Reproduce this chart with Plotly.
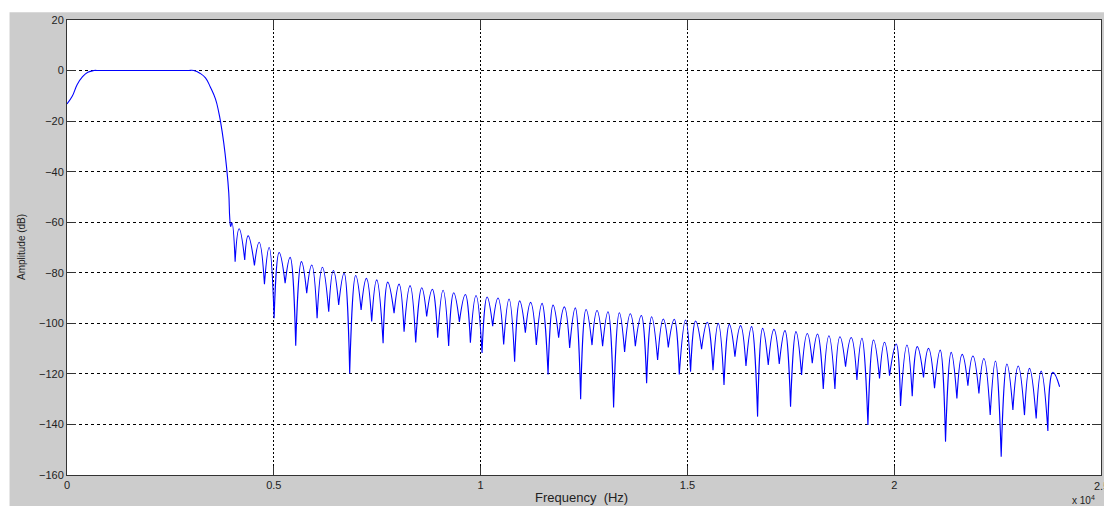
import plotly.graph_objects as go

# Passband and transition band (frequency in Hz, amplitude in dB)
band_hz = [0, 126, 247, 367, 503, 648, 800, 2900, 3065, 3227, 3348, 3468,
           3589, 3669, 3710, 3790, 3855, 3911, 3935, 3959, 3988]
band_db = [-13.2, -10.2, -5.5, -2.6, -0.7, 0.0, 0.0, 0.0, 0.0, -1.2, -2.9,
           -6.6, -11.2, -16.5, -20.0, -28.6, -37.8, -48.4, -58.3, -61.7, -60.2]

# Stopband nulls (bottom of each notch)
null_hz = [4065, 4297, 4532, 4774, 5008, 5274, 5530, 5796, 6047, 6328,
           6569, 6835, 7111, 7367, 7643, 7908, 8150, 8431, 8696, 8962,
           9228, 9487, 9753, 10035, 10292, 10558, 10823, 11082, 11348, 11631,
           11887, 12153, 12419, 12694, 12950, 13216, 13482, 13741, 14014, 14280,
           14538, 14804, 15077, 15343, 15619, 15885, 16150, 16416, 16697, 16955,
           17221, 17494, 17760, 18019, 18285, 18567, 18824, 19099, 19365, 19645,
           19887, 20153, 20436, 20709, 20975, 21241, 21516, 21782, 22048, 22321,
           22587, 22870, 23150, 23433, 23716]
null_db = [-75.6, -74.9, -77.1, -84.5, -98.0, -84.1, -108.9, -88.1, -98.0, -95.4,
           -92.7, -119.8, -94.7, -99.3, -107.9, -96.0, -103.3, -107.6, -97.3, -105.7,
           -109.0, -99.4, -107.7, -111.7, -101.1, -108.4, -115.2, -103.7, -108.6, -120.2,
           -105.7, -109.7, -130.0, -108.6, -109.0, -133.3, -111.3, -109.0, -123.7, -114.5,
           -109.5, -120.2, -119.1, -110.2, -118.5, -124.4, -113.2, -116.9, -136.9, -116.5,
           -116.1, -133.0, -120.4, -115.8, -126.0, -126.0, -117.2, -122.4, -140.2, -121.8,
           -120.7, -132.7, -128.8, -121.4, -125.7, -146.8, -129.7, -124.7, -127.7, -136.3,
           -152.8, -134.3, -136.3, -137.6, -142.6]

# Stopband sidelobe peaks
peak_hz = [4162, 4380, 4646, 4887, 5129, 5395, 5668, 5917, 6175, 6441,
           6700, 6980, 7239, 7488, 7754, 8029, 8295, 8576, 8834, 9093,
           9349, 9632, 9890, 10156, 10422, 10688, 10944, 11210, 11486, 11752,
           12025, 12290, 12549, 12815, 13081, 13354, 13620, 13886, 14135, 14417,
           14683, 14956, 15198, 15481, 15747, 16013, 16286, 16552, 16818, 17093,
           17359, 17625, 17898, 18147, 18422, 18688, 18961, 19220, 19500, 19766,
           20049, 20308, 20557, 20830, 21113, 21378, 21644, 21903, 22169, 22449,
           22725, 22998, 23271, 23554, 23837]
peak_db = [-62.6, -65.4, -67.9, -70.0, -72.0, -73.9, -75.6, -76.9, -77.8, -79.1,
           -80.2, -81.1, -82.2, -82.8, -83.7, -84.5, -85.1, -85.9, -86.5, -86.9,
           -87.9, -88.6, -89.0, -89.6, -90.0, -90.4, -91.1, -91.7, -92.1, -92.8,
           -93.5, -93.9, -94.5, -94.9, -95.4, -95.8, -96.2, -96.9, -97.4, -98.3,
           -98.4, -98.7, -99.1, -99.6, -100.0, -100.4, -100.9, -101.3, -102.0, -102.4,
           -102.9, -103.3, -104.0, -104.2, -104.9, -105.3, -105.6, -105.9, -106.6, -107.5,
           -108.2, -108.6, -109.2, -109.9, -110.6, -111.5, -112.3, -112.9, -113.9, -114.9,
           -116.1, -116.9, -117.8, -118.9, -119.4]

# Last sample at the Nyquist frequency
end_hz = 24000
end_db = -125.1

x_ticks = [0, 5000, 10000, 15000, 20000, 25000]
x_tick_text = ["0", "0.5", "1", "1.5", "2", "2.5"]
y_ticks = [20, 0, -20, -40, -60, -80, -100, -120, -140, -160]

# Assemble the response curve; each null is listed twice so the spline
# forms a sharp notch there instead of a rounded valley.
freq = list(band_hz)
amp = list(band_db)
for nh, nd, ph, pd in zip(null_hz, null_db, peak_hz, peak_db):
    freq += [nh, nh, ph]
    amp += [nd, nd, pd]
freq.append(end_hz)
amp.append(end_db)

W, H = 1104, 506
ML, MR, MT, MB = 66.5, 3, 20, 31
plot_w = W - ML - MR
plot_h = H - MT - MB


def px_to_paper_x(px):
    return (px - ML) / plot_w


def px_to_paper_y(py):
    return (H - MB - py) / plot_h


fig = go.Figure()
fig.add_trace(go.Scatter(
    x=freq, y=amp, mode="lines",
    line=dict(color="#0000ff", width=1.1, shape="spline", smoothing=1.3,
              simplify=False),
    hoverinfo="x+y",
))

font_family = "Liberation Sans, Arial, Helvetica, sans-serif"
tick_font = dict(family=font_family, size=11, color="#222222")
axis_common = dict(
    showline=True, linecolor="#333333", linewidth=1, mirror="ticks",
    ticks="inside", ticklen=9, tickcolor="#333333", tickwidth=1,
    showgrid=True, gridcolor="#000000", gridwidth=1, zeroline=False,
    tickfont=tick_font,
)

fig.update_layout(
    width=W, height=H,
    margin=dict(l=ML, r=MR, t=MT, b=MB, pad=0),
    paper_bgcolor="#cccccc", plot_bgcolor="#ffffff",
    showlegend=False,
    font=dict(family=font_family, size=11, color="#222222"),
    # the last tick sits on the right frame edge; its label is placed
    # separately below so that it runs off the edge of the window
    xaxis=dict(range=[0, 25000], tickmode="array", tickvals=x_ticks[:-1],
               ticktext=x_tick_text[:-1], griddash="2px,2px", **axis_common),
    yaxis=dict(range=[-160, 20], tickmode="array", tickvals=y_ticks,
               griddash="3px,3px", **axis_common),
    shapes=[
        # white window border along the top and left edges
        dict(type="rect", xref="paper", yref="paper", layer="below",
             x0=px_to_paper_x(-5), x1=px_to_paper_x(9),
             y0=px_to_paper_y(H + 5), y1=px_to_paper_y(-5),
             fillcolor="#ffffff", line=dict(width=0)),
        dict(type="rect", xref="paper", yref="paper", layer="below",
             x0=px_to_paper_x(-5), x1=px_to_paper_x(W + 5),
             y0=px_to_paper_y(12.3), y1=px_to_paper_y(-5),
             fillcolor="#ffffff", line=dict(width=0)),
    ],
    annotations=[
        dict(text=x_tick_text[-1], xref="x", yref="paper",
             x=x_ticks[-1], y=px_to_paper_y(477.5), showarrow=False,
             xanchor="center", yanchor="top", font=tick_font),
        dict(text="Amplitude (dB)", xref="paper", yref="paper",
             x=px_to_paper_x(21), y=0.5, textangle=-90, showarrow=False,
             xanchor="center", yanchor="middle",
             font=dict(family=font_family, size=10, color="#222222")),
        dict(text="Frequency  (Hz)", xref="paper", yref="paper",
             x=px_to_paper_x(581), y=px_to_paper_y(497), showarrow=False,
             xanchor="center", yanchor="middle",
             font=dict(family=font_family, size=13, color="#222222")),
        dict(text="x 10<sup>4</sup>", xref="paper", yref="paper",
             x=px_to_paper_x(1070), y=px_to_paper_y(500), showarrow=False,
             xanchor="left", yanchor="middle",
             font=dict(family=font_family, size=10, color="#222222")),
    ],
)

fig.write_html("out.html")
